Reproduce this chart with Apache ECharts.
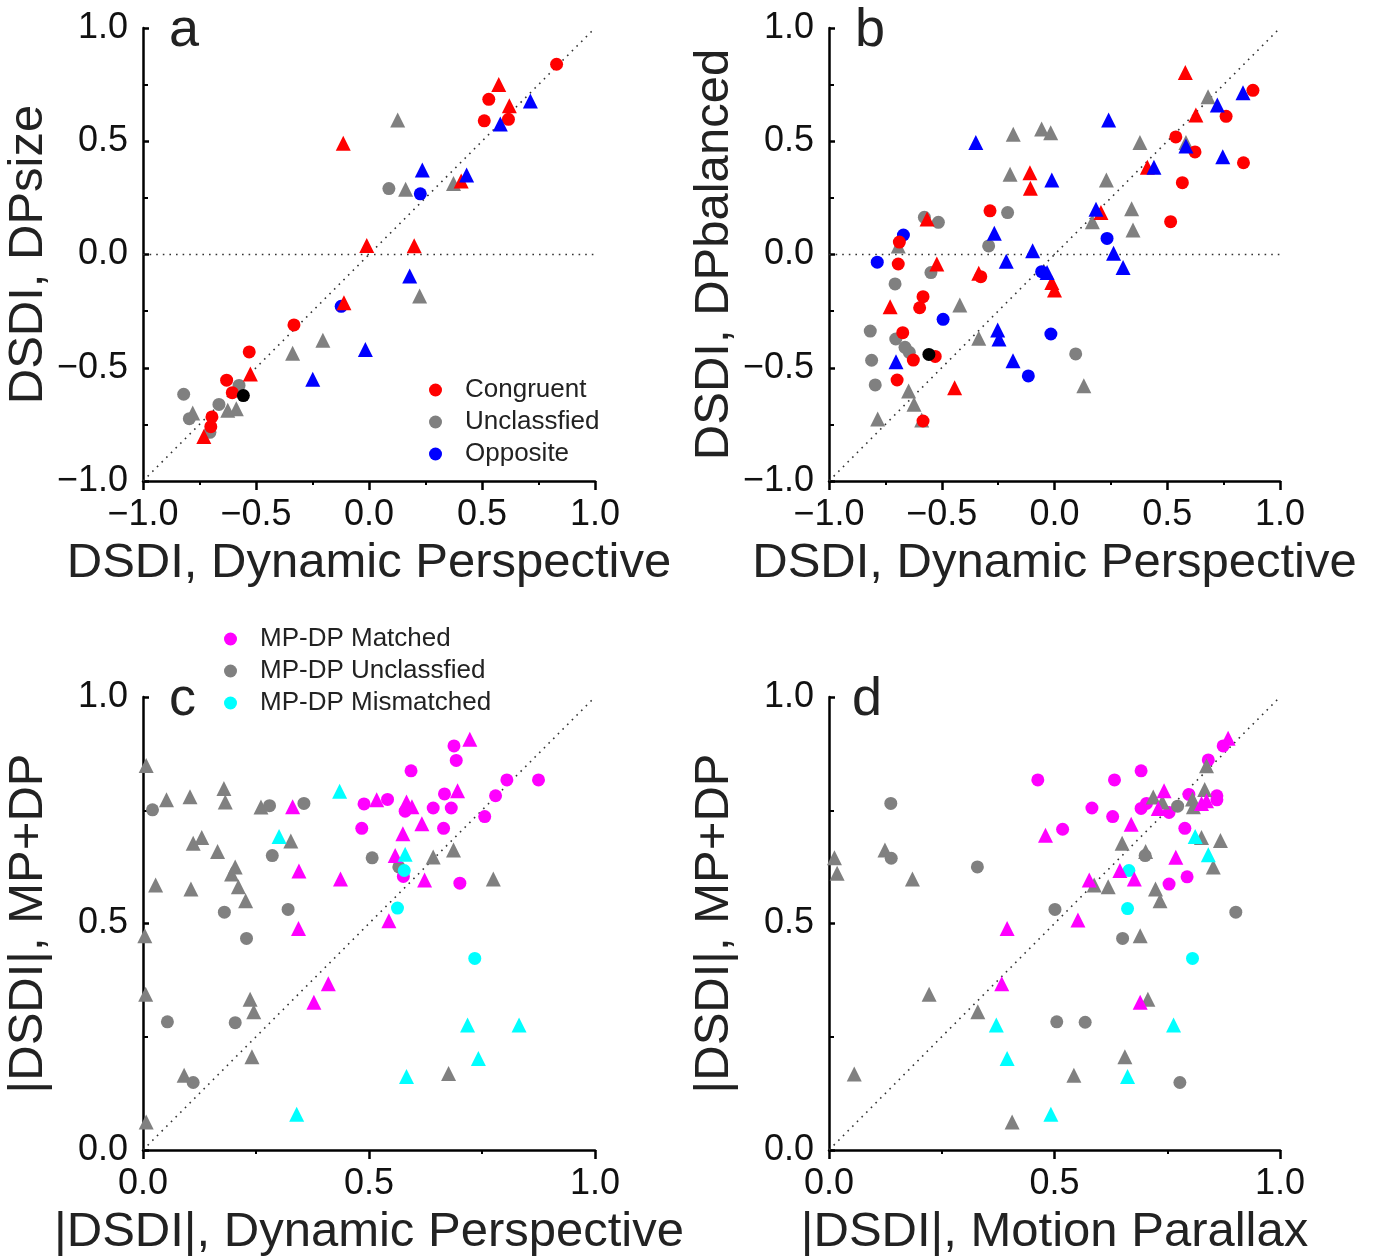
<!DOCTYPE html>
<html>
<head>
<meta charset="utf-8">
<script src="https://cdn.jsdelivr.net/npm/echarts@6/dist/echarts.min.js"></script>
<style>
  body { margin: 0; background: #fff; }
  #chart { width: 1376px; height: 1259px; }
</style>
</head>
<body>
<div id="chart"></div>
<script>
// panel a: DSDI dynamic perspective vs DPsize
const aRedCirc = [[0.83,0.84],[0.53,0.685],[0.51,0.59],[0.617,0.597],[-0.332,-0.311],[-0.53,-0.43],[-0.63,-0.555],[-0.605,-0.61],[-0.695,-0.717],[-0.70,-0.76]];
const aRedTri = [[0.574,0.751],[0.621,0.657],[-0.114,0.491],[0.408,0.325],[-0.01,0.04],[0.2,0.039],[-0.111,-0.213],[-0.525,-0.528],[-0.731,-0.804]];
const aGrayCirc = [[0.088,0.291],[-0.82,-0.617],[-0.795,-0.725],[-0.664,-0.662],[-0.575,-0.578],[-0.704,-0.785]];
const aGrayTri = [[0.127,0.594],[0.374,0.313],[0.162,0.288],[0.224,-0.183],[-0.78,-0.70],[-0.625,-0.688],[-0.587,-0.681],[-0.338,-0.436],[-0.204,-0.379]];
const aBlueCirc = [[0.227,0.268],[-0.123,-0.229]];
const aBlueTri = [[0.714,0.678],[0.581,0.576],[0.236,0.373],[0.432,0.351],[0.18,-0.095],[-0.249,-0.551],[-0.016,-0.419]];
const aBlack = [[-0.556,-0.623]];

// panel b: DSDI dynamic perspective vs DPbalanced
const bRedCirc = [[0.88,0.725],[0.761,0.61],[0.538,0.519],[0.623,0.453],[0.838,0.405],[0.567,0.317],[0.515,0.145],[-0.286,0.193],[-0.688,0.055],[-0.693,-0.042],[-0.327,-0.098],[-0.583,-0.186],[-0.598,-0.235],[-0.673,-0.345],[-0.626,-0.466],[-0.529,-0.45],[-0.698,-0.554],[-0.583,-0.735]];
const bRedTri = [[0.58,0.803],[0.627,0.616],[0.412,0.385],[0.206,0.185],[-0.109,0.361],[-0.107,0.292],[-0.565,0.157],[-0.522,-0.042],[-0.336,-0.083],[-0.012,-0.124],[0.0,-0.157],[-0.729,-0.231],[-0.443,-0.588]];
const bGrayCirc = [[-0.208,0.185],[-0.577,0.164],[-0.515,0.142],[-0.292,0.038],[-0.548,-0.08],[-0.707,-0.13],[-0.817,-0.338],[-0.704,-0.373],[-0.663,-0.41],[-0.644,-0.432],[-0.811,-0.467],[-0.795,-0.576],[0.094,-0.439]];
const bGrayTri = [[0.681,0.697],[0.583,0.494],[0.379,0.495],[0.23,0.329],[0.342,0.202],[0.168,0.145],[0.348,0.108],[-0.183,0.531],[-0.057,0.554],[-0.017,0.538],[-0.197,0.354],[-0.693,0.038],[-0.42,-0.223],[-0.336,-0.37],[-0.647,-0.603],[-0.623,-0.661],[-0.784,-0.726],[-0.589,-0.731],[0.13,-0.579]];
const bBlueCirc = [[0.233,0.071],[-0.67,0.086],[-0.786,-0.034],[-0.057,-0.076],[-0.494,-0.286],[-0.016,-0.351],[-0.116,-0.536]];
const bBlueTri = [[0.836,0.714],[0.722,0.66],[0.24,0.594],[0.583,0.479],[0.746,0.432],[0.441,0.385],[0.184,0.2],[0.262,0.005],[0.304,-0.057],[-0.349,0.494],[-0.012,0.329],[-0.267,0.094],[-0.097,0.017],[-0.214,-0.03],[-0.033,-0.079],[-0.252,-0.333],[-0.246,-0.373],[-0.703,-0.473],[-0.184,-0.469]];
const bBlack = [[-0.557,-0.441]];

// panel c: |DSDI| dynamic perspective vs MP+DP
const cMagCirc = [[0.688,0.892],[0.693,0.86],[0.593,0.837],[0.805,0.817],[0.875,0.817],[0.667,0.786],[0.78,0.782],[0.541,0.774],[0.58,0.748],[0.642,0.755],[0.682,0.755],[0.756,0.736],[0.665,0.71],[0.489,0.764],[0.484,0.71],[0.576,0.604],[0.701,0.589]];
const cMagTri = [[0.723,0.907],[0.696,0.793],[0.517,0.773],[0.583,0.768],[0.595,0.758],[0.617,0.72],[0.575,0.698],[0.558,0.65],[0.623,0.596],[0.331,0.758],[0.345,0.616],[0.437,0.598],[0.344,0.489],[0.544,0.506],[0.41,0.367],[0.378,0.326]];
const cGrayCirc = [[0.021,0.751],[0.28,0.76],[0.356,0.765],[0.286,0.65],[0.507,0.645],[0.566,0.625],[0.18,0.525],[0.321,0.531],[0.229,0.467],[0.054,0.283],[0.204,0.281],[0.111,0.149]];
const cGrayTri = [[0.007,0.849],[0.052,0.773],[0.104,0.78],[0.179,0.798],[0.182,0.768],[0.261,0.757],[0.111,0.677],[0.13,0.69],[0.165,0.659],[0.327,0.682],[0.204,0.625],[0.196,0.609],[0.028,0.585],[0.106,0.576],[0.211,0.581],[0.227,0.55],[0.004,0.473],[0.006,0.344],[0.237,0.333],[0.245,0.305],[0.241,0.206],[0.091,0.165],[0.676,0.169],[0.007,0.062],[0.642,0.647],[0.687,0.662],[0.775,0.598]];
const cCyanCirc = [[0.734,0.423],[0.578,0.617],[0.563,0.534]];
const cCyanTri = [[0.435,0.792],[0.301,0.692],[0.58,0.653],[0.718,0.276],[0.832,0.276],[0.742,0.202],[0.583,0.162],[0.34,0.079]];

// panel d: |DSDI| motion parallax vs MP+DP
const dMagCirc = [[0.874,0.892],[0.841,0.861],[0.692,0.837],[0.633,0.817],[0.463,0.817],[0.798,0.785],[0.86,0.782],[0.86,0.773],[0.704,0.765],[0.692,0.754],[0.754,0.745],[0.583,0.755],[0.629,0.736],[0.518,0.708],[0.789,0.71],[0.794,0.603],[0.754,0.587]];
const dMagTri = [[0.885,0.909],[0.743,0.793],[0.826,0.765],[0.837,0.771],[0.73,0.754],[0.67,0.719],[0.48,0.695],[0.769,0.646],[0.645,0.617],[0.677,0.598],[0.577,0.596],[0.552,0.508],[0.395,0.489],[0.383,0.367],[0.69,0.326]];
const dGrayCirc = [[0.137,0.765],[0.138,0.644],[0.329,0.625],[0.773,0.759],[0.701,0.65],[0.501,0.531],[0.902,0.525],[0.651,0.467],[0.505,0.283],[0.568,0.282],[0.778,0.149]];
const dGrayTri = [[0.012,0.645],[0.018,0.611],[0.124,0.662],[0.185,0.598],[0.837,0.848],[0.833,0.796],[0.719,0.779],[0.739,0.768],[0.806,0.775],[0.808,0.758],[0.826,0.69],[0.868,0.683],[0.65,0.677],[0.702,0.659],[0.852,0.625],[0.588,0.585],[0.619,0.581],[0.724,0.576],[0.734,0.55],[0.69,0.473],[0.222,0.344],[0.707,0.333],[0.33,0.305],[0.656,0.206],[0.056,0.168],[0.543,0.165],[0.406,0.062]];
const dCyanCirc = [[0.665,0.617],[0.662,0.533],[0.806,0.423]];
const dCyanTri = [[0.812,0.692],[0.841,0.652],[0.371,0.276],[0.764,0.276],[0.395,0.202],[0.662,0.162],[0.492,0.079]];

// reference lines (data space)
const unityFull = [[-1,-1],[1,1]];
const zeroLine = [[-1,0],[1,0]];
const unityHalf = [[0,0],[1,1]];

const legendTop = ['Congruent', 'Unclassfied', 'Opposite'];
const legendBottom = ['MP-DP Matched', 'MP-DP Unclassfied', 'MP-DP Mismatched'];

const FONT = 'Liberation Sans, Arial, sans-serif';
const RED = '#ff0000', GRAY = '#808080', BLUE = '#0000ff', MAG = '#ff00ff', CYAN = '#00ffff';

const fmt = v => (v < 0 ? '\u2212' : '') + Math.abs(v).toFixed(1);

function xAxis(grid, min, name) {
  return {
    type: 'value', gridIndex: grid, min: min, max: 1, interval: 0.5,
    name: name, nameLocation: 'middle', nameGap: 58,
    nameTextStyle: { fontSize: 49, fontFamily: FONT, color: '#222' },
    axisLine: { onZero: false, lineStyle: { color: '#000', width: 2.5 } },
    axisTick: { length: 9, lineStyle: { color: '#000', width: 2.5 } },
    minorTick: { show: true, splitNumber: 2, length: 4, lineStyle: { color: '#000', width: 2 } },
    axisLabel: { fontSize: 36, fontFamily: FONT, color: '#111', margin: 16, formatter: fmt },
    splitLine: { show: false }
  };
}

function yAxis(grid, min, name) {
  return {
    type: 'value', gridIndex: grid, min: min, max: 1, interval: 0.5,
    name: name, nameLocation: 'middle', nameGap: 90,
    nameTextStyle: { fontSize: 49, fontFamily: FONT, color: '#222' },
    axisLine: { onZero: false, lineStyle: { color: '#000', width: 2.5 } },
    axisTick: { inside: true, length: 6, lineStyle: { color: '#000', width: 2.5 } },
    minorTick: { show: true, splitNumber: 2, length: 5, lineStyle: { color: '#000', width: 2 } },
    axisLabel: { fontSize: 36, fontFamily: FONT, color: '#111', margin: 15, formatter: fmt },
    splitLine: { show: false }
  };
}

function dots(name, data, symbol, color, idx) {
  return {
    name: name, type: 'scatter', xAxisIndex: idx, yAxisIndex: idx,
    data: data, symbol: symbol, symbolSize: symbol === 'triangle' ? 15 : 13,
    itemStyle: { color: color, opacity: 1 }, z: 3, silent: true
  };
}

function refLine(data, idx) {
  return {
    type: 'line', xAxisIndex: idx, yAxisIndex: idx, data: data,
    symbol: 'none', silent: true, z: 1,
    lineStyle: { color: '#333', width: 1.6, type: [1.6, 5] }
  };
}

const letterStyle = { fontSize: 54, fontWeight: 'normal', color: '#222', fontFamily: FONT };

const chart = echarts.init(document.getElementById('chart'));

chart.setOption({
  animation: false,
  textStyle: { fontFamily: FONT },
  grid: [
    { left: 143, top: 28, width: 452, height: 453 },
    { left: 829, top: 28, width: 451, height: 453 },
    { left: 143, top: 697, width: 452, height: 453 },
    { left: 829, top: 697, width: 451, height: 453 }
  ],
  title: [
    { text: 'a', left: 169, top: 4, padding: 0, textStyle: letterStyle },
    { text: 'b', left: 855, top: 4, padding: 0, textStyle: letterStyle },
    { text: 'c', left: 169, top: 673, padding: 0, textStyle: letterStyle },
    { text: 'd', left: 852, top: 673, padding: 0, textStyle: letterStyle }
  ],
  legend: [
    {
      data: legendTop, orient: 'vertical', left: 429, top: 377, padding: 0,
      icon: 'circle', itemWidth: 13, itemHeight: 13, itemGap: 6,
      textStyle: { fontSize: 26, color: '#222', fontFamily: FONT, padding: [0, 0, 0, 18] },
      selectedMode: false
    },
    {
      data: legendBottom, orient: 'vertical', left: 224, top: 626, padding: 0,
      icon: 'circle', itemWidth: 13, itemHeight: 13, itemGap: 6,
      textStyle: { fontSize: 26, color: '#222', fontFamily: FONT, padding: [0, 0, 0, 18] },
      selectedMode: false
    }
  ],
  xAxis: [
    xAxis(0, -1, 'DSDI, Dynamic Perspective'),
    xAxis(1, -1, 'DSDI, Dynamic Perspective'),
    xAxis(2, 0, '|DSDI|, Dynamic Perspective'),
    xAxis(3, 0, '|DSDI|, Motion Parallax')
  ],
  yAxis: [
    yAxis(0, -1, 'DSDI, DPsize'),
    yAxis(1, -1, 'DSDI, DPbalanced'),
    yAxis(2, 0, '|DSDI|, MP+DP'),
    yAxis(3, 0, '|DSDI|, MP+DP')
  ],
  series: [
    refLine(unityFull, 0), refLine(zeroLine, 0),
    dots('Unclassfied', aGrayTri, 'triangle', GRAY, 0),
    dots('Unclassfied', aGrayCirc, 'circle', GRAY, 0),
    dots('Opposite', aBlueCirc, 'circle', BLUE, 0),
    dots('Congruent', aRedCirc, 'circle', RED, 0),
    dots('Congruent', aRedTri, 'triangle', RED, 0),
    dots('Opposite', aBlueTri, 'triangle', BLUE, 0),
    dots('black-a', aBlack, 'circle', '#000', 0),

    refLine(unityFull, 1), refLine(zeroLine, 1),
    dots('Unclassfied', bGrayTri, 'triangle', GRAY, 1),
    dots('Unclassfied', bGrayCirc, 'circle', GRAY, 1),
    dots('Opposite', bBlueCirc, 'circle', BLUE, 1),
    dots('Congruent', bRedCirc, 'circle', RED, 1),
    dots('Congruent', bRedTri, 'triangle', RED, 1),
    dots('Opposite', bBlueTri, 'triangle', BLUE, 1),
    dots('black-b', bBlack, 'circle', '#000', 1),

    refLine(unityHalf, 2),
    dots('MP-DP Matched', cMagCirc, 'circle', MAG, 2),
    dots('MP-DP Unclassfied', cGrayCirc, 'circle', GRAY, 2),
    dots('MP-DP Mismatched', cCyanCirc, 'circle', CYAN, 2),
    dots('MP-DP Unclassfied', cGrayTri, 'triangle', GRAY, 2),
    dots('MP-DP Matched', cMagTri, 'triangle', MAG, 2),
    dots('MP-DP Mismatched', cCyanTri, 'triangle', CYAN, 2),

    refLine(unityHalf, 3),
    dots('MP-DP Matched', dMagCirc, 'circle', MAG, 3),
    dots('MP-DP Unclassfied', dGrayCirc, 'circle', GRAY, 3),
    dots('MP-DP Mismatched', dCyanCirc, 'circle', CYAN, 3),
    dots('MP-DP Unclassfied', dGrayTri, 'triangle', GRAY, 3),
    dots('MP-DP Matched', dMagTri, 'triangle', MAG, 3),
    dots('MP-DP Mismatched', dCyanTri, 'triangle', CYAN, 3)
  ]
});
</script>
</body>
</html>
